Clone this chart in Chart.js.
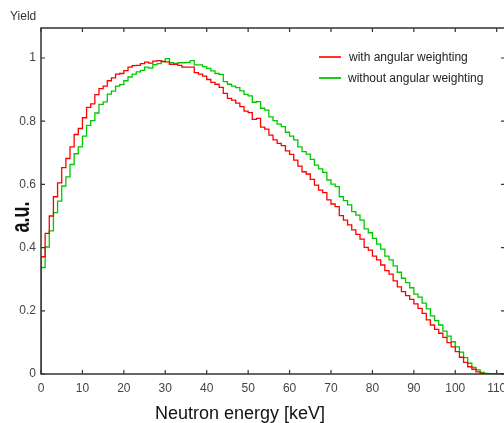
<!DOCTYPE html>
<html>
<head>
<meta charset="utf-8">
<script src="https://cdn.jsdelivr.net/npm/chart.js@4.4.1/dist/chart.umd.min.js"></script>
<style>
html, body { margin: 0; padding: 0; background: #fff; overflow: hidden; }
#wrap { position: relative; width: 504px; height: 423px; overflow: hidden; font-family: Arial, "Liberation Sans", sans-serif; }
#wrap canvas { position: absolute; left: 0; top: 0; }
.lbl { position: absolute; white-space: nowrap; line-height: 1; }
.trait { position: absolute; height: 2px; width: 22px; }
</style>
</head>
<body>
<div id="wrap">
    <canvas id="graphe" width="520" height="423"></canvas>
    <div class="lbl" style="left:10px; top:10px; font-size:12px; color:#333;">Yield</div>
    <div class="lbl" style="left:21px; top:217px; font-size:18px; font-weight:bold; color:#111; transform: translate(-50%, -50%) rotate(-90deg) scaleY(1.4);">a.u.</div>
    <div class="lbl" style="left:155px; top:404px; font-size:18px; color:#111;">Neutron energy [keV]</div>

    <div class="trait" style="left:319px; top:56px; background:#ff3030;"></div>
    <div class="lbl" style="left:349px; top:51px; font-size:12px; color:#222;">with angular weighting</div>
    <div class="trait" style="left:319px; top:77px; background:#20c820;"></div>
    <div class="lbl" style="left:348px; top:72px; font-size:12px; color:#222;">without angular weighting</div>
</div>

<script>
// largeur d'un bin en keV
const largeurBin = 1;

// avec ponderation angulaire (rouge)
const avecPonderation = [
    0.287, 0.371, 0.445, 0.500, 0.561, 0.605, 0.653, 0.682, 0.719, 0.758,
    0.777, 0.811, 0.844, 0.855, 0.884, 0.903, 0.911, 0.928, 0.937, 0.949,
    0.951, 0.960, 0.971, 0.976, 0.977, 0.982, 0.987, 0.984, 0.990, 0.992,
    0.989, 0.988, 0.980, 0.980, 0.977, 0.971, 0.971, 0.971, 0.954, 0.949,
    0.943, 0.932, 0.923, 0.917, 0.907, 0.888, 0.872, 0.867, 0.857, 0.846,
    0.832, 0.827, 0.806, 0.809, 0.781, 0.775, 0.756, 0.741, 0.730, 0.723,
    0.706, 0.695, 0.677, 0.658, 0.640, 0.633, 0.616, 0.598, 0.582, 0.574,
    0.551, 0.538, 0.530, 0.501, 0.487, 0.472, 0.456, 0.442, 0.427, 0.401,
    0.392, 0.373, 0.361, 0.345, 0.327, 0.316, 0.295, 0.276, 0.261, 0.248,
    0.236, 0.222, 0.208, 0.192, 0.171, 0.155, 0.141, 0.129, 0.116, 0.099,
    0.086, 0.071, 0.053, 0.037, 0.023, 0.015, 0.007, 0.002, 0, 0,
    0, 0
];

// sans ponderation angulaire (vert)
const sansPonderation = [
    0.263, 0.337, 0.402, 0.453, 0.511, 0.547, 0.595, 0.624, 0.663, 0.697,
    0.719, 0.753, 0.787, 0.802, 0.826, 0.853, 0.861, 0.886, 0.895, 0.911,
    0.916, 0.928, 0.940, 0.949, 0.956, 0.961, 0.971, 0.968, 0.979, 0.982,
    0.989, 0.998, 0.985, 0.983, 0.985, 0.985, 0.986, 0.992, 0.978, 0.978,
    0.973, 0.967, 0.959, 0.951, 0.948, 0.925, 0.917, 0.911, 0.906, 0.896,
    0.885, 0.880, 0.860, 0.862, 0.841, 0.835, 0.814, 0.802, 0.791, 0.783,
    0.765, 0.753, 0.741, 0.719, 0.704, 0.696, 0.679, 0.661, 0.649, 0.638,
    0.614, 0.601, 0.593, 0.561, 0.549, 0.535, 0.514, 0.503, 0.487, 0.459,
    0.447, 0.429, 0.411, 0.395, 0.373, 0.361, 0.342, 0.322, 0.303, 0.289,
    0.273, 0.253, 0.243, 0.224, 0.206, 0.184, 0.169, 0.155, 0.136, 0.120,
    0.102, 0.086, 0.069, 0.052, 0.034, 0.021, 0.013, 0.005, 0.002, 0.001,
    0, 0
];

// graduations des axes
const graduationsX = [0, 10, 20, 30, 40, 50, 60, 70, 80, 90, 100, 110];
const graduationsY = [0, 0.2, 0.4, 0.6, 0.8, 1];

// histogramme en escalier : chaque bin commence a i * largeurBin
function versEscalier(valeurs) {
    const points = [{ x: 0, y: 0 }];
    valeurs.forEach((v, i) => points.push({ x: i * largeurBin, y: v }));
    points.push({ x: valeurs.length * largeurBin, y: valeurs[valeurs.length - 1] });
    return points;
}

// cadre + petites graduations vers l'interieur
const cadre = {
    id: "cadre",
    afterDraw(chart) {
        const { ctx, chartArea: a, scales: { x, y } } = chart;
        ctx.save();
        ctx.strokeStyle = "#333";
        ctx.lineWidth = 1.5;
        ctx.strokeRect(a.left, a.top, a.right - a.left, a.bottom - a.top);
        ctx.lineWidth = 1.2;
        ctx.beginPath();
        x.ticks.forEach(t => {
            const px = x.getPixelForValue(t.value);
            ctx.moveTo(px, a.bottom); ctx.lineTo(px, a.bottom - 4);
            ctx.moveTo(px, a.top); ctx.lineTo(px, a.top + 4);
        });
        y.ticks.forEach(t => {
            const py = y.getPixelForValue(t.value);
            ctx.moveTo(a.left, py); ctx.lineTo(a.left + 4, py);
            ctx.moveTo(a.right, py); ctx.lineTo(a.right - 4, py);
        });
        ctx.stroke();
        ctx.restore();
    }
};

const ctx = document.getElementById("graphe").getContext("2d");

new Chart(ctx, {
    type: "line",
    data: {
        datasets: [
            {
                label: "with angular weighting",
                data: versEscalier(avecPonderation),
                borderColor: "#ff0000",
                borderWidth: 1.3,
                stepped: "after",
                pointRadius: 0,
                fill: false
            },
            {
                label: "without angular weighting",
                data: versEscalier(sansPonderation),
                borderColor: "#00c800",
                borderWidth: 1.3,
                stepped: "after",
                pointRadius: 0,
                fill: false
            }
        ]
    },
    options: {
        responsive: false,
        animation: false,
        devicePixelRatio: 1,
        layout: { padding: { top: 28, right: 15, left: 0, bottom: 0 } },
        plugins: { legend: { display: false }, tooltip: { enabled: false } },
        scales: {
            x: {
                type: "linear",
                min: 0,
                max: 112,
                grid: { display: false, drawTicks: false },
                border: { display: false },
                afterBuildTicks: s => { s.ticks = graduationsX.map(v => ({ value: v })); },
                afterFit: s => { s.height = 49; },
                ticks: {
                    autoSkip: false,
                    maxRotation: 0,
                    padding: 7,
                    color: "#444",
                    font: { family: "Arial, 'Liberation Sans'", size: 12 }
                }
            },
            y: {
                min: 0,
                max: 1.095,
                grid: { display: false, drawTicks: false },
                border: { display: false },
                afterBuildTicks: s => { s.ticks = graduationsY.map(v => ({ value: v })); },
                afterFit: s => { s.width = 41; },
                ticks: {
                    padding: 5,
                    color: "#444",
                    font: { family: "Arial, 'Liberation Sans'", size: 12 },
                    callback: v => String(Math.round(v * 10) / 10)
                }
            }
        }
    },
    plugins: [cadre]
});
</script>
</body>
</html>
